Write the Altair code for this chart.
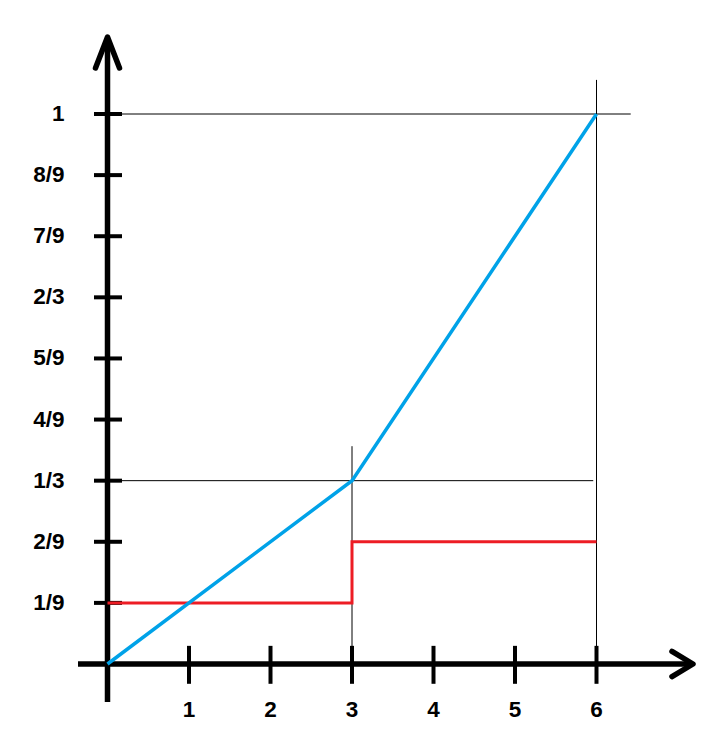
import altair as alt
import pandas as pd

# ---- data ----
x_ticks = [1, 2, 3, 4, 5, 6]
x_tick_labels = ["1", "2", "3", "4", "5", "6"]
y_ticks = [1/9, 2/9, 1/3, 4/9, 5/9, 2/3, 7/9, 8/9, 1]
y_tick_labels = ["1/9", "2/9", "1/3", "4/9", "5/9", "2/3", "7/9", "8/9", "1"]

blue_x = [0, 3, 6]
blue_y = [0, 1/3, 1]

red_x = [0, 3, 6]
red_y = [1/9, 2/9, 2/9]

# guide lines (drop lines to the key points)
guide_h_y = [1, 1/3]
guide_h_x2 = [6.42, 5.96]
guide_v_x = [6, 3]
guide_v_y2 = [1.062, 0.396]

# ---- layout ----
W, H = 690, 720
XDOM = [-1.2209, 7.2454]
YDOM = [-0.11636, 1.19273]
xs = alt.Scale(domain=XDOM, nice=False, zero=False)
ys = alt.Scale(domain=YDOM, nice=False, zero=False)

def X(f):
    return alt.X(f, type="quantitative", scale=xs, axis=None)

def Y(f):
    return alt.Y(f, type="quantitative", scale=ys, axis=None)

FONT = "Liberation Sans"
FS = 22.5

# thin guide lines
guides_h = pd.DataFrame({"x": [0] * len(guide_h_y), "x2": guide_h_x2, "y": guide_h_y})
guides_v = pd.DataFrame({"x": guide_v_x, "y": [0] * len(guide_v_x), "y2": guide_v_y2})
g1 = alt.Chart(guides_h).mark_rule(color="black", strokeWidth=1).encode(
    x=X("x"), x2="x2:Q", y=Y("y"))
g2 = alt.Chart(guides_v).mark_rule(color="black", strokeWidth=1).encode(
    x=X("x"), y=Y("y"), y2="y2:Q")

# main axes (hand-drawn style)
axes_df = pd.DataFrame({
    "x": [0, -0.362], "x2": [0, 7.17],
    "y": [-0.069, 0], "y2": [1.13, 0],
})
axes = alt.Chart(axes_df).mark_rule(color="black", strokeWidth=5.5).encode(
    x=X("x"), x2="x2:Q", y=Y("y"), y2="y2:Q")

# tick marks
xt_df = pd.DataFrame({"x": x_ticks, "lab": x_tick_labels})
yt_df = pd.DataFrame({"y": y_ticks, "lab": y_tick_labels})
xt = alt.Chart(xt_df).mark_rule(color="black", strokeWidth=4).encode(
    x=X("x"), y=alt.Y("a:Q", scale=ys, axis=None), y2="b:Q"
).transform_calculate(a="0.033", b="-0.036")
yt = alt.Chart(yt_df).mark_rule(color="black", strokeWidth=4).encode(
    y=Y("y"), x=alt.X("a:Q", scale=xs, axis=None), x2="b:Q"
).transform_calculate(a="-0.166", b="0.178")

# series
red_df = pd.DataFrame({"x": red_x, "y": red_y})
blue_df = pd.DataFrame({"x": blue_x, "y": blue_y})
red = alt.Chart(red_df).mark_line(color="#ED1C24", strokeWidth=3, interpolate="step-after").encode(
    x=X("x"), y=Y("y"))
blue = alt.Chart(blue_df).mark_line(color="#00A2E8", strokeWidth=3.5).encode(
    x=X("x"), y=Y("y"))

# arrowheads
up_df = pd.DataFrame({"x": [0], "y": [1.14]})
right_df = pd.DataFrame({"x": [7.184], "y": [0]})
up = alt.Chart(up_df).mark_point(
    shape="M -0.387 1 L 0 0 L 0.387 1", size=3844, filled=False,
    stroke="black", strokeWidth=5.5, opacity=1, strokeCap="round", strokeJoin="round"
).encode(x=X("x"), y=Y("y"))
right = alt.Chart(right_df).mark_point(
    shape="M -1 -0.6 L 0 0 L -1 0.6", size=1764, filled=False,
    stroke="black", strokeWidth=5.5, opacity=1, strokeCap="round", strokeJoin="round"
).encode(x=X("x"), y=Y("y"))

# labels
xl = alt.Chart(xt_df).mark_text(
    font=FONT, fontSize=FS, fontWeight="bold", color="black",
    align="center", baseline="middle", dy=46
).encode(x=X("x"), y=alt.Y("z:Q", scale=ys, axis=None), text="lab:N").transform_calculate(z="0")
yl = alt.Chart(yt_df).mark_text(
    font=FONT, fontSize=FS, fontWeight="bold", color="black",
    align="right", baseline="middle", dx=-43
).encode(y=Y("y"), x=alt.X("z:Q", scale=xs, axis=None), text="lab:N").transform_calculate(z="0")

chart = alt.layer(g1, g2, axes, xt, yt, red, blue, up, right, xl, yl).properties(
    width=W, height=H, padding=0, autosize="none", background="white"
).configure_view(stroke=None)

chart.save("out.html", embed_options={"renderer": "svg", "actions": False})
